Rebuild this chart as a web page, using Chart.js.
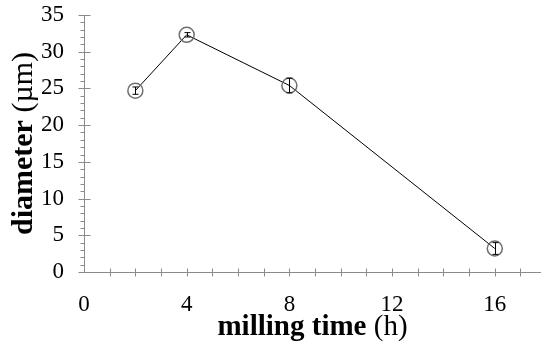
<!DOCTYPE html>
<html>
<head>
<meta charset="utf-8">
<script src="https://cdn.jsdelivr.net/npm/chart.js@4/dist/chart.umd.min.js"></script>
<style>
  html, body { margin: 0; padding: 0; background: #fff; }
  #wrap { width: 541px; height: 342px; position: relative; }
</style>
</head>
<body>
<div id="wrap"><canvas id="chart"></canvas></div>
<script>
// data
const millingTime = [2, 4, 8, 16];
const diameter = [24.7, 32.3, 25.4, 3.2];
const errorBar = [0.5, 0.3, 1.0, 0.8];
const xTickLabels = [0, 4, 8, 12, 16];
const yTickLabels = [0, 5, 10, 15, 20, 25, 30, 35];

const axisGray = '#8a8a8a';
const serif = '"Liberation Serif", "Times New Roman", serif';

// tick marks crossing the axes, error bars and mixed bold/regular titles
const decorations = {
  id: 'decorations',
  afterDatasetsDraw(chart) {
    const ctx = chart.ctx;
    const x = chart.scales.x, y = chart.scales.y;

    // error bars
    ctx.save();
    ctx.strokeStyle = '#000';
    ctx.lineWidth = 1;
    millingTime.forEach((t, i) => {
      const px = Math.round(x.getPixelForValue(t)) + 0.5;
      const top = y.getPixelForValue(diameter[i] + errorBar[i]);
      const bot = y.getPixelForValue(diameter[i] - errorBar[i]);
      ctx.beginPath();
      ctx.moveTo(px, top); ctx.lineTo(px, bot);
      ctx.moveTo(px - 3, top); ctx.lineTo(px + 3, top);
      ctx.moveTo(px - 3, bot); ctx.lineTo(px + 3, bot);
      ctx.stroke();
    });
    ctx.restore();
  },
  afterDraw(chart) {
    const ctx = chart.ctx;
    const x = chart.scales.x, y = chart.scales.y;
    const ax = Math.round(x.getPixelForValue(0)) + 0.5;
    const ay = Math.round(y.getPixelForValue(0)) + 0.5;

    ctx.save();
    ctx.strokeStyle = axisGray;
    ctx.lineWidth = 1;
    ctx.beginPath();
    // y ticks: major every 5, minor every 1
    for (let v = 0; v <= 35; v++) {
      const py = Math.round(y.getPixelForValue(v)) + 0.5;
      if (v % 5 === 0) { ctx.moveTo(ax - 6, py); ctx.lineTo(ax + 6, py); }
      else { ctx.moveTo(ax - 4, py); ctx.lineTo(ax, py); }
    }
    // x ticks every 1 h
    for (let v = 1; v <= 17; v++) {
      const px = Math.round(x.getPixelForValue(v)) + 0.5;
      ctx.moveTo(px, ay - 4); ctx.lineTo(px, ay + 4);
    }
    ctx.stroke();
    ctx.restore();

    // axis titles
    const drawTitle = (parts, cx, cy, rot) => {
      ctx.save();
      ctx.translate(cx, cy);
      ctx.rotate(rot);
      ctx.fillStyle = '#000';
      ctx.textBaseline = 'alphabetic';
      let total = 0;
      parts.forEach(p => { ctx.font = p.font; total += ctx.measureText(p.text).width; });
      let pos = -total / 2;
      parts.forEach(p => {
        ctx.font = p.font;
        ctx.fillText(p.text, pos, 0);
        pos += ctx.measureText(p.text).width;
      });
      ctx.restore();
    };
    drawTitle([{ text: 'milling time ', font: 'bold 29px ' + serif }, { text: '(h)', font: '29px ' + serif }],
      (chart.chartArea.left + chart.chartArea.right) / 2, 335, 0);
    drawTitle([{ text: 'diameter ', font: 'bold 30px ' + serif }, { text: '(\u00b5m)', font: '30px ' + serif }],
      32, (chart.chartArea.top + chart.chartArea.bottom) / 2, -Math.PI / 2);
  }
};

new Chart(document.getElementById('chart'), {
  type: 'line',
  data: {
    datasets: [{
      data: millingTime.map((t, i) => ({ x: t, y: diameter[i] })),
      borderColor: '#000',
      borderWidth: 1,
      tension: 0,
      pointStyle: 'circle',
      pointRadius: 7.5,
      pointBorderWidth: 1.5,
      pointBorderColor: '#6f6f6f',
      pointBackgroundColor: 'rgba(255,255,255,0)'
    }]
  },
  options: {
    responsive: true,
    maintainAspectRatio: false,
    animation: false,
    layout: { autoPadding: false, padding: { top: 15, right: 0, left: 0, bottom: 0 } },
    plugins: { legend: { display: false }, tooltip: { enabled: false } },
    scales: {
      x: {
        type: 'linear',
        min: 0,
        max: 17.8,
        afterFit: s => { s.height = 70; s.paddingLeft = 0; s.paddingRight = 0; },
        afterBuildTicks: s => { s.ticks = xTickLabels.map(v => ({ value: v })); },
        grid: { display: false, drawTicks: false },
        border: { color: axisGray, width: 1 },
        ticks: { color: '#000', padding: 19, font: { family: serif, size: 23 } }
      },
      y: {
        min: 0,
        max: 35,
        afterFit: s => { s.width = 84; s.paddingTop = 0; s.paddingBottom = 0; },
        afterBuildTicks: s => { s.ticks = yTickLabels.map(v => ({ value: v })); },
        grid: { display: false, drawTicks: false },
        border: { color: axisGray, width: 1 },
        ticks: { color: '#000', padding: 20, font: { family: serif, size: 23 } }
      }
    }
  },
  plugins: [decorations]
});
</script>
</body>
</html>
